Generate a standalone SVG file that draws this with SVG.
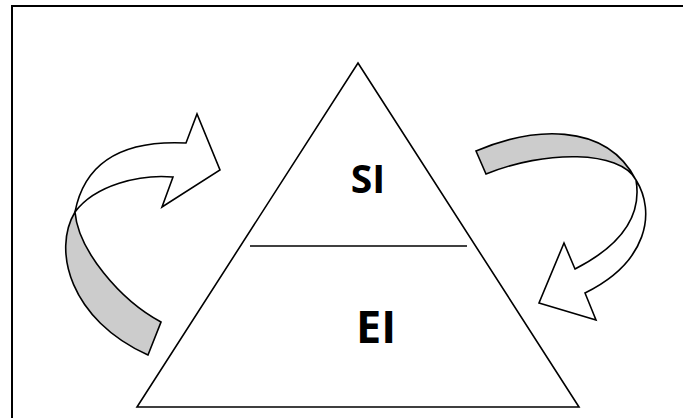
<svg xmlns="http://www.w3.org/2000/svg" width="683" height="418" viewBox="0 0 683 418">
  <style>
    .ln { fill: none; stroke: #000; stroke-width: 1.6; }
    .shape { stroke: #000; stroke-width: 1.6; stroke-linejoin: miter; }
    .white { fill: #ffffff; }
    .gray { fill: #cccccc; }
    .lbl { font-family: "Open Sans", "Liberation Sans", sans-serif; font-weight: bold; fill: #000; text-anchor: middle; }
  </style>
  <rect x="0" y="0" width="683" height="418" fill="#ffffff"/>
  <g id="frame">
    <path d="M12,418 V6 H683" fill="none" stroke="#000" stroke-width="2"/>
  </g>
  <g id="pyramid">
    <path class="ln" d="M358,63 L579,407 L137,407 Z"/>
    <line class="ln" x1="250" y1="246" x2="467" y2="246"/>
  </g>
  <g id="node-si">
    <text class="lbl" x="368" y="193" font-size="39">SI</text>
  </g>
  <g id="node-ei">
    <text class="lbl" x="376" y="343" font-size="45">EI</text>
  </g>
  <g id="connectors">
    <g id="arrow-left">
      <path class="shape gray" d="M75,212 C52,250 70,320 148,355 L161,322 C120,300 78,250 75,212 Z"/>
      <path class="shape white" d="M75,212 C85,160 125,140 186,143 L197,114 L220,170 L162,207 L173,177 C140,174 95,185 75,212 Z"/>
    </g>
    <g id="arrow-right">
      <path class="shape gray" d="M476,151 C530,128 605,120 636,180 C620,150 545,150 486,174 Z"/>
      <path class="shape white" d="M636,180 C656,212 648,262 585,293 L596,320 L539,303 L564,243 L575,269 C622,245 642,215 636,180 Z"/>
    </g>
  </g>
</svg>
